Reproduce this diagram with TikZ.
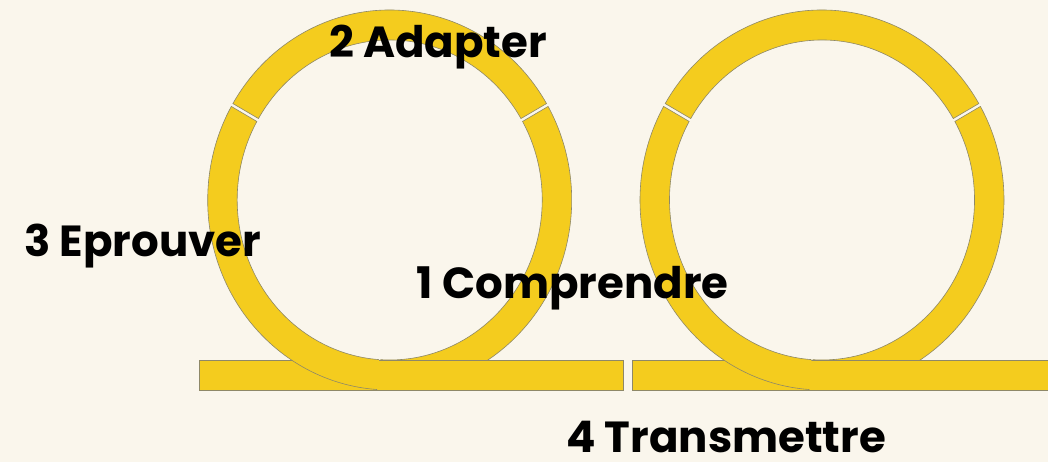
\documentclass[tikz,border=0pt]{standalone}
\usepackage{fontspec}
\setmainfont{Poppins}
\usetikzlibrary{calc}
\definecolor{bg}{HTML}{FAF6EC}
\definecolor{ring}{HTML}{F4CC1E}
\definecolor{edge}{HTML}{8E8868}
% closed ring segment: #1 cx, #2 cy, #3 start angle, #4 end angle
\newcommand\ringseg[4]{%
  \path[segfill,segline] ([shift={(#1,#2)}]#3+0.5:182pt and 190pt)
    arc[start angle=#3+0.5, end angle=#4-0.5, x radius=182pt, y radius=190pt]
    -- ([shift={(#1,#2)}]#4-0.6:152.5pt and 160pt)
    arc[start angle=#4-0.6, end angle=#3+0.6, x radius=152.5pt, y radius=160pt]
    -- cycle;}
% front segment (over the bar): bottom end not stroked
\newcommand\ringfront[4]{%
  \path[segfill] ([shift={(#1,#2)}]#3+0.5:182pt and 190pt)
    arc[start angle=#3+0.5, end angle=#4, x radius=182pt, y radius=190pt]
    -- ([shift={(#1,#2)}]#4:152.5pt and 160pt)
    arc[start angle=#4, end angle=#3+0.6, x radius=152.5pt, y radius=160pt]
    -- cycle;
  \path[segline] ([shift={(#1,#2)}]#4:182pt and 190pt)
    arc[start angle=#4, end angle=#3+0.5, x radius=182pt, y radius=190pt]
    -- ([shift={(#1,#2)}]#3+0.6:152.5pt and 160pt)
    arc[start angle=#3+0.6, end angle=#4, x radius=152.5pt, y radius=160pt];}
\begin{document}
\begin{tikzpicture}[x=1pt,y=1pt,
  segfill/.style={fill=ring},
  segline/.style={draw=edge, line width=0.6pt},
  bar/.style={fill=ring, draw=edge, line width=0.6pt},
  lbl/.style={anchor=base west, inner sep=0pt, text=black,
              font=\bfseries\fontsize{43.5}{43.5}\selectfont}]
\fill[bg] (0,0) rectangle (1048,462);
\useasboundingbox (0,0) rectangle (1048,462);
% back segments
\ringseg{389.7}{262}{-94}{30}
\ringseg{389.7}{262}{30}{150}
\ringseg{822}{262}{-94}{30}
\ringseg{822}{262}{30}{150}
% bars
\path[bar] (199.3,72) rectangle (623.5,102);
\path[bar] (632,72) rectangle (1060,102);
% front segments
\ringfront{389.7}{262}{150}{266}
\ringfront{822}{262}{150}{266}
% labels
\node[lbl] (adapter) at (329,404) {2 Adapter};
\node[lbl] (eprouver) at (24,205.3) {3 Eprouver};
\node[lbl] (comprendre) at (416.5,163) {1 Comprendre};
\node[lbl, text depth=0pt] (transmettre) at (566,9.8) {4 Transmettre};
\end{tikzpicture}
\end{document}
